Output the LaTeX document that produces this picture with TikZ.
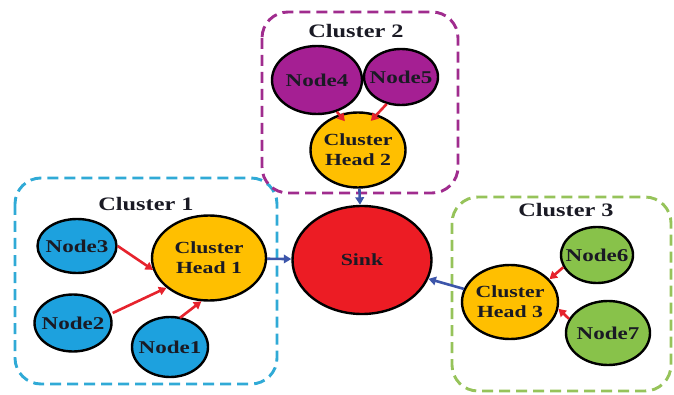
\documentclass[tikz,border=0pt]{standalone}
\usepackage{fontspec}
\setmainfont{Liberation Serif}[FakeStretch=1.28]
\usetikzlibrary{shapes.geometric,arrows.meta}

\definecolor{nodeblue}{HTML}{1DA1DE}
\definecolor{nodepurple}{HTML}{A51F93}
\definecolor{headorange}{HTML}{FFBF00}
\definecolor{sinkred}{HTML}{EC1C24}
\definecolor{nodegreen}{HTML}{88C24A}
\definecolor{cOneEdge}{HTML}{30AAD6}
\definecolor{cTwoEdge}{HTML}{A02C8E}
\definecolor{cThreeEdge}{HTML}{96C35A}
\definecolor{linkred}{HTML}{E6232D}
\definecolor{linkblue}{HTML}{3C55AA}
\definecolor{inkdark}{HTML}{1A1A24}

\tikzset{
  % inner sep is negative so that the given minimum sizes fix each ellipse
  blob/.style={ellipse, draw=black, line width=2.4pt, inner sep=-10pt,
    font=\fontsize{17}{20}\selectfont\bfseries, text=inkdark, align=center},
  member/.style={blob, font=\fontsize{18}{20}\selectfont\bfseries},
  clusterbox/.style={line width=2.9pt, dash pattern=on 11pt off 6pt, rounded corners=26pt},
  clustertitle/.style={font=\fontsize{19}{22}\selectfont\bfseries, text=inkdark},
  uplink/.style={draw=linkred, line width=2.6pt, -{Triangle[length=7.5pt,width=8.5pt]}},
  sinklink/.style={draw=linkblue, line width=2.6pt, -{Triangle[length=7.5pt,width=8.5pt]}},
}

\begin{document}
\begin{tikzpicture}[x=1pt,y=-1pt]
\useasboundingbox (0,0) rectangle (674,395);

% cluster frames
\draw[clusterbox, cOneEdge] (15,178) rectangle (277,384);
\draw[clusterbox, cTwoEdge] (262,12) rectangle (458,193);
\draw[clusterbox, cThreeEdge] (452,197) rectangle (671,391);

\node[clustertitle] (t1) at (146,204) {Cluster 1};
\node[clustertitle] (t2) at (356,31) {Cluster 2};
\node[clustertitle] (t3) at (566,210) {Cluster 3};

% sink
\node[blob, fill=sinkred, minimum width=139pt, minimum height=108pt] (sink) at (362,260) {Sink};

% cluster 1
\node[blob, fill=headorange, minimum width=114pt, minimum height=85pt] (ch1) at (209,258) {Cluster\\Head 1};
\node[member, fill=nodeblue, minimum width=79pt, minimum height=54pt] (n3) at (77,246) {Node3};
\node[member, fill=nodeblue, minimum width=77pt, minimum height=57pt] (n2) at (73,323) {Node2};
\node[member, fill=nodeblue, minimum width=76pt, minimum height=60pt] (n1) at (170,347) {Node1};

% cluster 2
\node[member, fill=nodepurple, minimum width=90pt, minimum height=68pt] (n4) at (317,80) {Node4};
\node[member, fill=nodepurple, minimum width=74pt, minimum height=56pt] (n5) at (401,77) {Node5};
\node[blob, fill=headorange, minimum width=95pt, minimum height=75pt] (ch2) at (358,150) {Cluster\\Head 2};

% cluster 3
\node[blob, fill=headorange, minimum width=96pt, minimum height=74pt] (ch3) at (510,302) {Cluster\\Head 3};
\node[member, fill=nodegreen, minimum width=72pt, minimum height=56pt] (n6) at (597,255) {Node6};
\node[member, fill=nodegreen, minimum width=84pt, minimum height=64pt] (n7) at (608,333) {Node7};

% member links
\draw[uplink] (n3.east) -- (ch1.192);
\draw[uplink] (n2.east) ++(0,-10) coordinate (n2out) (n2out) -- (ch1.215);
\draw[uplink] (n1.north) ++(10,2) coordinate (n1out) (n1out) -- (ch1.-100);
\draw[uplink, shorten >=-9pt] (n4.-58) -- (ch2.118);
\draw[uplink, shorten >=-9pt] (n5.-118) -- (ch2.62);
\draw[uplink] (n6.200) -- (ch3.30);
\draw[uplink] (n7.160) -- (ch3.-8);

% links to the sink
\draw[sinklink] (ch1) -- (sink);
\draw[sinklink] (ch2) -- (sink);
\draw[sinklink] (ch3) -- (sink);
\end{tikzpicture}
\end{document}
